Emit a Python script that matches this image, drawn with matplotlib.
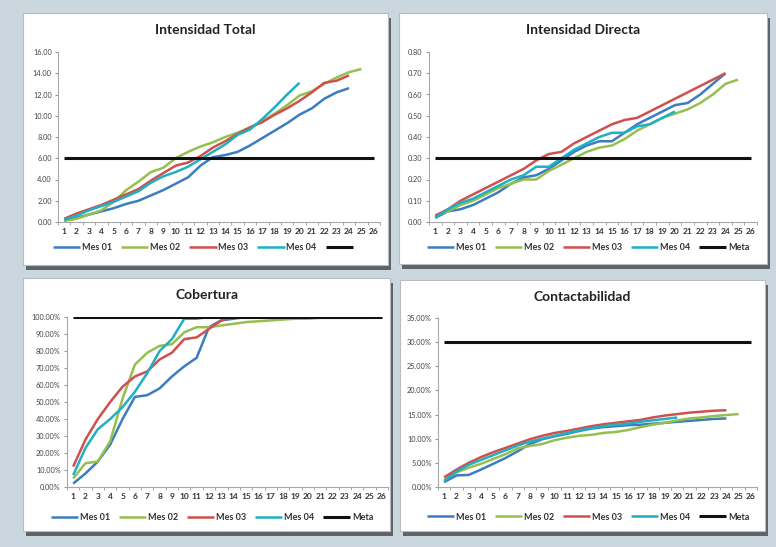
import matplotlib.pyplot as plt
from matplotlib.patches import Rectangle
from matplotlib.ticker import FuncFormatter, MultipleLocator

plt.rcParams['font.family'] = ['Lato', 'DejaVu Sans']

W, H = 776, 547

# datos
dias = list(range(1, 27))
nombres = ['Mes 01', 'Mes 02', 'Mes 03', 'Mes 04', 'Meta']
colores = ['#3b7dc0', '#96bf4f', '#d0504d', '#1fb0c4', '#111111']

total_m1 = [0.2, 0.4, 0.7, 1.0, 1.3, 1.7, 2.0, 2.5, 3.0, 3.6, 4.2, 5.3, 6.1, 6.3, 6.6, 7.2, 7.9, 8.6, 9.3, 10.1, 10.7, 11.6, 12.2, 12.6]
total_m2 = [0.1, 0.3, 0.7, 1.1, 1.9, 3.0, 3.8, 4.7, 5.1, 6.0, 6.6, 7.1, 7.5, 8.0, 8.4, 8.9, 9.5, 10.2, 11.0, 11.9, 12.3, 13.0, 13.6, 14.1, 14.4]
total_m3 = [0.3, 0.8, 1.2, 1.6, 2.1, 2.6, 3.1, 3.9, 4.6, 5.3, 5.6, 6.2, 7.0, 7.6, 8.3, 8.9, 9.4, 10.1, 10.7, 11.4, 12.2, 13.1, 13.3, 13.8]
total_m4 = [0.2, 0.6, 1.1, 1.5, 1.9, 2.4, 2.9, 3.7, 4.3, 4.7, 5.2, 5.9, 6.6, 7.3, 8.2, 8.7, 9.7, 10.8, 12.0, 13.1]
total_meta = [6.0] * 26

directa_m1 = [0.02, 0.05, 0.06, 0.08, 0.11, 0.14, 0.18, 0.21, 0.22, 0.25, 0.29, 0.33, 0.36, 0.38, 0.38, 0.42, 0.46, 0.49, 0.52, 0.55, 0.56, 0.60, 0.65, 0.70]
directa_m2 = [0.03, 0.05, 0.08, 0.10, 0.13, 0.16, 0.18, 0.20, 0.20, 0.24, 0.27, 0.30, 0.33, 0.35, 0.36, 0.39, 0.43, 0.46, 0.49, 0.51, 0.53, 0.56, 0.60, 0.65, 0.67]
directa_m3 = [0.03, 0.06, 0.10, 0.13, 0.16, 0.19, 0.22, 0.25, 0.29, 0.32, 0.33, 0.37, 0.40, 0.43, 0.46, 0.48, 0.49, 0.52, 0.55, 0.58, 0.61, 0.64, 0.67, 0.70]
directa_m4 = [0.02, 0.06, 0.09, 0.11, 0.14, 0.17, 0.20, 0.22, 0.26, 0.26, 0.30, 0.34, 0.37, 0.40, 0.42, 0.42, 0.45, 0.46, 0.49, 0.52]
directa_meta = [0.30] * 26

cob_m1 = [2, 8, 15, 25, 40, 53, 54, 58, 65, 71, 76, 94, 98, 99, 100, 100, 100, 100, 100, 100, 100, 100, 100, 100]
cob_m2 = [5, 14, 15, 27, 52, 72, 79, 83, 84, 91, 94, 94, 95, 96, 97, 97.5, 98, 98.5, 99, 99, 99.5, 99.5, 99.5, 99.5, 99.5]
cob_m3 = [12, 28, 40, 50, 59, 65, 68, 75, 79, 87, 88, 93, 98, 100, 100, 100, 100, 100, 100, 100, 100, 100, 100, 100]
cob_m4 = [7, 23, 34, 40, 47, 56, 67, 80, 87, 99, 99, 100, 100, 100, 100, 100, 100, 100, 100, 100]
cob_meta = [100] * 26

cont_m1 = [1.0, 2.4, 2.5, 3.6, 4.8, 6.0, 7.4, 8.9, 9.9, 10.5, 11.0, 11.6, 12.1, 12.4, 12.6, 12.8, 12.9, 13.1, 13.3, 13.5, 13.7, 13.9, 14.1, 14.2]
cont_m2 = [1.5, 3.0, 4.0, 4.8, 5.8, 6.8, 8.0, 8.5, 8.9, 9.7, 10.2, 10.6, 10.8, 11.2, 11.4, 11.8, 12.4, 12.9, 13.3, 13.8, 14.2, 14.4, 14.7, 14.9, 15.1]
cont_m3 = [2.0, 3.6, 5.0, 6.2, 7.2, 8.1, 9.0, 9.9, 10.6, 11.2, 11.6, 12.1, 12.6, 13.0, 13.3, 13.6, 13.9, 14.4, 14.8, 15.1, 15.4, 15.6, 15.8, 15.9]
cont_m4 = [1.2, 3.2, 4.6, 5.6, 6.6, 7.6, 8.6, 9.4, 10.0, 10.6, 11.2, 11.7, 12.2, 12.6, 12.9, 13.1, 13.5, 13.8, 14.1, 14.4]
cont_meta = [30.0] * 26


def fr(x0, y0, x1, y1):
    # pixeles (arriba-izquierda) -> fraccion de figura
    return [x0 / W, 1 - y1 / H, (x1 - x0) / W, (y1 - y0) / H]


fig = plt.figure(figsize=(W / 100, H / 100), dpi=100)
fig.patch.set_facecolor('#cbd7de')


def panel(caja, ejes, titulo, series, ymax, paso, fmt, leg_x, leg_y, meta_label='Meta'):
    x0, y0, x1, y1 = caja
    sombra = Rectangle((x0 / W + 3 / W, 1 - (y1 + 5) / H), (x1 - x0) / W, (y1 - y0) / H,
                       transform=fig.transFigure, facecolor='#5d6469', edgecolor='none', zorder=0)
    blanco = Rectangle((x0 / W, 1 - y1 / H), (x1 - x0) / W, (y1 - y0) / H,
                       transform=fig.transFigure, facecolor='white', edgecolor='#b8bcc0', lw=0.8, zorder=1)
    fig.patches.extend([sombra, blanco])

    ax = fig.add_axes(fr(*ejes))
    ax.set_facecolor('none')
    ax.set_zorder(2)
    handles = []
    for datos, nombre, color in zip(series, nombres, colores):
        lw = 2.2 if nombre == 'Meta' else 1.8
        h, = ax.plot(dias[:len(datos)], datos, color=color, lw=lw, solid_capstyle='butt')
        handles.append(h)
    ax.set_xlim(0.5, 26.5)
    ax.set_ylim(0, ymax)
    ax.yaxis.set_major_locator(MultipleLocator(paso))
    ax.yaxis.set_major_formatter(FuncFormatter(fmt))
    ax.set_xticks(dias)
    ax.set_xticks([d + 0.5 for d in range(0, 27)], minor=True)
    ax.tick_params(axis='x', which='major', length=0, labelsize=6, pad=4, labelcolor='#333333')
    ax.tick_params(axis='x', which='minor', length=2.5, color='#999999')
    ax.tick_params(axis='y', length=2.5, color='#999999', labelsize=5.3, labelcolor='#444444', pad=2)
    for lab in ax.get_xticklabels():
        lab.set_fontweight('bold')
    for s in ['top', 'right']:
        ax.spines[s].set_visible(False)
    for s in ['left', 'bottom']:
        ax.spines[s].set_color('#a8a8a8')
        ax.spines[s].set_linewidth(0.8)

    cx = (x0 + x1) / 2 / W
    fig.text(cx, 1 - (y0 + 17) / H, titulo, ha='center', va='center',
             fontsize=10, fontweight='bold', color='#222222')
    labels = nombres[:4] + [meta_label]
    leg = ax.legend(handles, labels, loc='center', bbox_to_anchor=(leg_x / W, 1 - leg_y / H),
                    bbox_transform=fig.transFigure, ncol=5, frameon=False, fontsize=6.5,
                    handlelength=3.0, handletextpad=0.2, columnspacing=1.0)
    for t in leg.get_texts():
        t.set_fontweight('bold')
        t.set_color('#333333')
    return ax


dec = lambda v, p: '%.2f' % v
pct = lambda v, p: '%.2f%%' % v

panel((23, 13, 388, 265), (58, 52, 380, 222), 'Intensidad Total',
      [total_m1, total_m2, total_m3, total_m4, total_meta], 16, 2, dec, 205, 248, meta_label=' ')
panel((399, 13, 767, 264), (429, 52, 757, 222), 'Intensidad Directa',
      [directa_m1, directa_m2, directa_m3, directa_m4, directa_meta], 0.8, 0.1, dec, 588, 248)
panel((23, 278, 390, 531), (67, 317, 388, 487), 'Cobertura',
      [cob_m1, cob_m2, cob_m3, cob_m4, cob_meta], 100, 10, pct, 212, 518)
panel((400, 280, 765, 531), (438, 318, 757, 487), 'Contactabilidad',
      [cont_m1, cont_m2, cont_m3, cont_m4, cont_meta], 35, 5, pct, 588, 517)

fig.savefig('out.png', dpi=100, facecolor=fig.get_facecolor())
